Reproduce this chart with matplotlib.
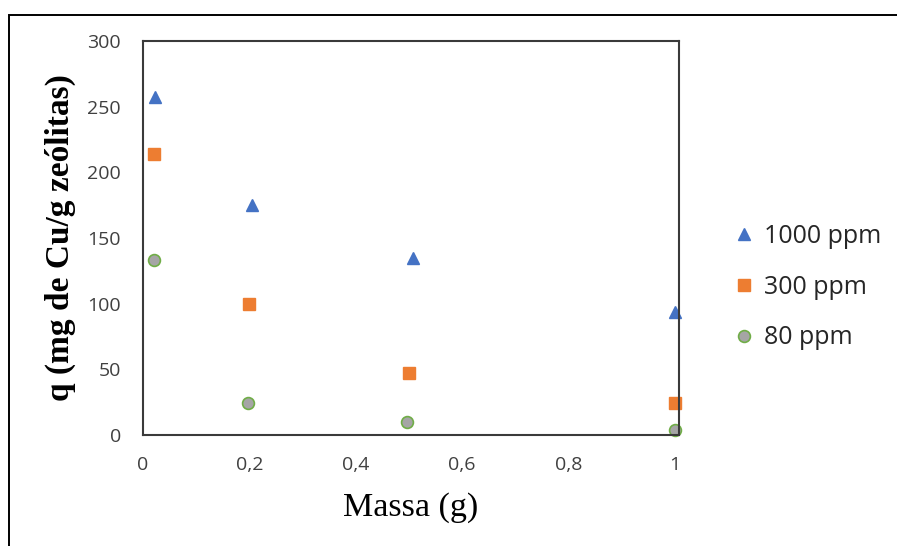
import matplotlib
matplotlib.use("Agg")
import matplotlib.pyplot as plt
from matplotlib.patches import Rectangle

# Adsorption capacity vs. zeolite mass for three initial Cu concentrations
series_labels = ["1000 ppm", "300 ppm", "80 ppm"]
massa_1000 = [0.022, 0.205, 0.507, 1.0]
q_1000 = [257, 175, 135, 94]
massa_300 = [0.02, 0.20, 0.50, 1.0]
q_300 = [214, 100, 47, 24]
massa_80 = [0.02, 0.197, 0.497, 1.0]
q_80 = [133, 24, 10, 3.5]

x_ticks = [0, 0.2, 0.4, 0.6, 0.8, 1.0]
x_tick_labels = ["0", "0,2", "0,4", "0,6", "0,8", "1"]
y_ticks = [0, 50, 100, 150, 200, 250, 300]
y_tick_labels = ["0", "50", "100", "150", "200", "250", "300"]

W, H = 897, 546
fig = plt.figure(figsize=(W / 100, H / 100), dpi=100)

# outer chart frame (runs off the right and bottom edges)
fig.patches.append(Rectangle((9 / W, -0.05), 1.2, 1 - 15 / H + 0.05,
                             transform=fig.transFigure, fill=False,
                             edgecolor="black", linewidth=1.4))

left, right, top, bottom = 143, 679, 41, 435
ax = fig.add_axes([left / W, 1 - bottom / H, (right - left) / W, (bottom - top) / H])

ax.plot(massa_1000, q_1000, linestyle="none", marker="^", markersize=9,
        color="#4472C4", label=series_labels[0], clip_on=False)
ax.plot(massa_300, q_300, linestyle="none", marker="s", markersize=8.5,
        color="#ED7D31", label=series_labels[1], clip_on=False)
ax.plot(massa_80, q_80, linestyle="none", marker="o", markersize=8.5,
        markerfacecolor="#A5A5A5", markeredgecolor="#70AD47",
        markeredgewidth=1.2, label=series_labels[2], clip_on=False)

ax.set_xlim(0, 1.0075)
ax.set_ylim(0, 300)
ax.set_xticks(x_ticks)
ax.set_xticklabels(x_tick_labels)
ax.set_yticks(y_ticks)
ax.set_yticklabels(y_tick_labels)

for lbl in ax.get_xticklabels() + ax.get_yticklabels():
    lbl.set_fontfamily("Open Sans")
    lbl.set_fontsize(14)
    lbl.set_color("#404040")
ax.tick_params(axis="both", length=0)
ax.tick_params(axis="x", pad=15)
ax.tick_params(axis="y", pad=16)

for sp in ax.spines.values():
    sp.set_color("#3a3a3a")
    sp.set_linewidth(1.5)

ax.set_xlabel("Massa (g)", fontfamily="Liberation Serif", fontsize=24.5, labelpad=13)
ax.set_ylabel("q (mg de Cu/g zeólitas)", fontfamily="Liberation Serif",
              fontsize=24, fontweight="bold", labelpad=8)

leg = fig.legend(loc="upper left", bbox_to_anchor=(736 / W, 1 - 224 / H),
                 frameon=False, prop={"family": "Open Sans", "size": 18},
                 handlelength=0.6, handletextpad=0.5, labelspacing=1.03,
                 borderaxespad=0, borderpad=0)
for t in leg.get_texts():
    t.set_color("#262626")

fig.savefig("out.png", dpi=100)
